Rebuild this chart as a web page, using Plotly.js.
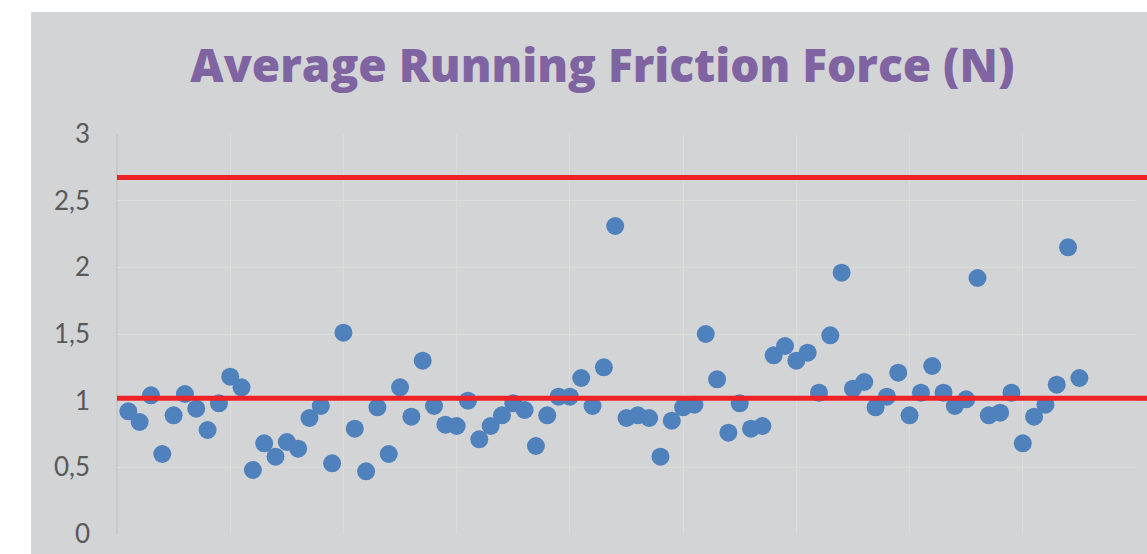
<!DOCTYPE html>
<html>
<head>
<meta charset="utf-8">
<script src="https://cdn.plot.ly/plotly-3.0.1.min.js"></script>
<style>
  html, body { margin: 0; padding: 0; background: #ffffff; width: 1147px; height: 554px; overflow: hidden; }
  #chart { position: absolute; left: 31px; top: 12px; width: 1116px; height: 542px; }
</style>
</head>
<body>
<div id="chart"></div>
<script>
// Sample numbers (x) and average running friction force values (y)
const sampleIndex = [];
for (let i = 1; i <= 85; i++) sampleIndex.push(i);

const frictionForce = [
  0.92, 0.84, 1.04, 0.60, 0.89, 1.05, 0.94, 0.78, 0.98, 1.18,
  1.10, 0.48, 0.68, 0.58, 0.69, 0.64, 0.87, 0.96, 0.53, 1.51,
  0.79, 0.47, 0.95, 0.60, 1.10, 0.88, 1.30, 0.96, 0.82, 0.81,
  1.00, 0.71, 0.81, 0.89, 0.98, 0.93, 0.66, 0.89, 1.03, 1.03,
  1.17, 0.96, 1.25, 2.31, 0.87, 0.89, 0.87, 0.58, 0.85, 0.95,
  0.97, 1.50, 1.16, 0.76, 0.98, 0.79, 0.81, 1.34, 1.41, 1.30,
  1.36, 1.06, 1.49, 1.96, 1.09, 1.14, 0.95, 1.03, 1.21, 0.89,
  1.06, 1.26, 1.06, 0.96, 1.01, 1.92, 0.89, 0.91, 1.06, 0.68,
  0.88, 0.97, 1.12, 2.15, 1.17
];

const upperLimit = 2.673;
const centerLine = 1.019;

const yTickVals = [0, 0.5, 1, 1.5, 2, 2.5, 3];

const data = [{
  type: 'scatter',
  mode: 'markers',
  x: sampleIndex,
  y: frictionForce,
  marker: { size: 18, color: '#4f81bd', line: { width: 0 } },
  hoverinfo: 'x+y',
  showlegend: false
}];

const limits = [upperLimit, centerLine];

const layout = {
  width: 1116,
  height: 542,
  paper_bgcolor: '#d3d4d6',
  plot_bgcolor: '#d3d4d6',
  separators: ', ',
  margin: { l: 86, r: 11, t: 122, b: 20, pad: 0 },
  title: {
    text: 'Average Running Friction Force (N)',
    font: { family: '"Open Sans", sans-serif', size: 46, color: '#8064a2', weight: 800 },
    x: 0.512, xanchor: 'center',
    y: 0.9, yanchor: 'middle', yref: 'container'
  },
  xaxis: {
    range: [0, 90],
    dtick: 10,
    tick0: 0,
    showgrid: true,
    gridcolor: '#dcdcd9',
    gridwidth: 1,
    showticklabels: false,
    zeroline: false,
    showline: false,
    ticks: ''
  },
  yaxis: {
    range: [0, 3],
    tickvals: yTickVals,
    showgrid: true,
    gridcolor: '#dcdcd9',
    gridwidth: 1,
    zeroline: false,
    showline: false,
    ticks: '',
    ticklabelstandoff: 26,
    tickfont: { family: 'Lato, sans-serif', size: 26, color: '#595959' }
  },
  shapes: [
    { type: 'line', xref: 'paper', yref: 'paper', x0: 0, x1: 0, y0: 0, y1: 1,
      line: { color: '#bdbdbd', width: 1 }, layer: 'below' }
  ].concat(limits.map(v => ({
    type: 'line', xref: 'paper', yref: 'y', x0: 0, x1: 1.02, y0: v, y1: v,
    line: { color: '#ee2227', width: 5 }, layer: 'above'
  })))
};

Plotly.newPlot('chart', data, layout, { staticPlot: true, displayModeBar: false });
</script>
</body>
</html>
